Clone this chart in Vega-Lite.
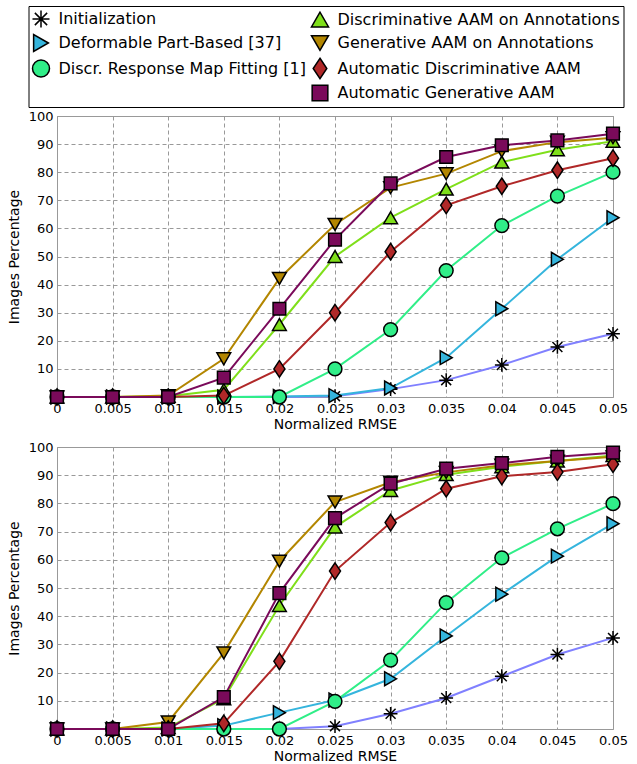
{
  "$schema": "https://vega.github.io/schema/vega-lite/v6.json",
  "padding": {"left": 6, "top": 5, "right": 5, "bottom": 2},
  "background": "white",
  "config": {
    "font": "DejaVu Sans",
    "view": {"stroke": "#999999", "strokeWidth": 1},
    "axis": {
      "domain": false,
      "ticks": false,
      "grid": true,
      "gridColor": "#999999",
      "gridDash": [4, 3],
      "gridWidth": 1,
      "labelFont": "DejaVu Sans",
      "labelFontSize": 13,
      "labelColor": "black",
      "labelFlush": false,
      "labelOverlap": false,
      "titleFont": "DejaVu Sans",
      "titleFontSize": 14,
      "titleFontWeight": "normal",
      "titleColor": "black"
    },
    "legend": {
      "orient": "none",
      "legendX": -28.5,
      "legendY": -110,
      "columns": 2,
      "strokeColor": "black",
      "fillColor": "white",
      "padding": 3,
      "labelFont": "DejaVu Sans",
      "labelFontSize": 16,
      "labelColor": "black",
      "labelLimit": 500,
      "labelOffset": 8,
      "symbolSize": 290,
      "symbolStrokeColor": "black",
      "symbolStrokeWidth": 1.5,
      "symbolOpacity": 1,
      "rowPadding": -0.5,
      "columnPadding": 1,
      "title": null
    }
  },
  "datasets": {
    "top": [
      {"x": 0, "y": 0, "series": "Initialization"},
      {"x": 0.005, "y": 0, "series": "Initialization"},
      {"x": 0.01, "y": 0, "series": "Initialization"},
      {"x": 0.015, "y": 0, "series": "Initialization"},
      {"x": 0.02, "y": 0, "series": "Initialization"},
      {"x": 0.025, "y": 0.3, "series": "Initialization"},
      {"x": 0.03, "y": 2.8, "series": "Initialization"},
      {"x": 0.035, "y": 6, "series": "Initialization"},
      {"x": 0.04, "y": 11.4, "series": "Initialization"},
      {"x": 0.045, "y": 17.8, "series": "Initialization"},
      {"x": 0.05, "y": 22.5, "series": "Initialization"},
      {"x": 0, "y": 0, "series": "Deformable Part-Based [37]"},
      {"x": 0.005, "y": 0, "series": "Deformable Part-Based [37]"},
      {"x": 0.01, "y": 0, "series": "Deformable Part-Based [37]"},
      {"x": 0.015, "y": 0, "series": "Deformable Part-Based [37]"},
      {"x": 0.02, "y": 0.2, "series": "Deformable Part-Based [37]"},
      {"x": 0.025, "y": 0.5, "series": "Deformable Part-Based [37]"},
      {"x": 0.03, "y": 3.2, "series": "Deformable Part-Based [37]"},
      {"x": 0.035, "y": 14, "series": "Deformable Part-Based [37]"},
      {"x": 0.04, "y": 31.4, "series": "Deformable Part-Based [37]"},
      {"x": 0.045, "y": 49, "series": "Deformable Part-Based [37]"},
      {"x": 0.05, "y": 63.8, "series": "Deformable Part-Based [37]"},
      {"x": 0, "y": 0, "series": "Discr. Response Map Fitting [1]"},
      {"x": 0.005, "y": 0, "series": "Discr. Response Map Fitting [1]"},
      {"x": 0.01, "y": 0, "series": "Discr. Response Map Fitting [1]"},
      {"x": 0.015, "y": 0, "series": "Discr. Response Map Fitting [1]"},
      {"x": 0.02, "y": 0, "series": "Discr. Response Map Fitting [1]"},
      {"x": 0.025, "y": 10, "series": "Discr. Response Map Fitting [1]"},
      {"x": 0.03, "y": 24, "series": "Discr. Response Map Fitting [1]"},
      {"x": 0.035, "y": 45, "series": "Discr. Response Map Fitting [1]"},
      {"x": 0.04, "y": 61, "series": "Discr. Response Map Fitting [1]"},
      {"x": 0.045, "y": 71.5, "series": "Discr. Response Map Fitting [1]"},
      {"x": 0.05, "y": 80, "series": "Discr. Response Map Fitting [1]"},
      {"x": 0, "y": 0, "series": "Discriminative AAM on Annotations"},
      {"x": 0.005, "y": 0, "series": "Discriminative AAM on Annotations"},
      {"x": 0.01, "y": 0.3, "series": "Discriminative AAM on Annotations"},
      {"x": 0.015, "y": 2.6, "series": "Discriminative AAM on Annotations"},
      {"x": 0.02, "y": 25.8, "series": "Discriminative AAM on Annotations"},
      {"x": 0.025, "y": 50, "series": "Discriminative AAM on Annotations"},
      {"x": 0.03, "y": 63.8, "series": "Discriminative AAM on Annotations"},
      {"x": 0.035, "y": 74, "series": "Discriminative AAM on Annotations"},
      {"x": 0.04, "y": 83.6, "series": "Discriminative AAM on Annotations"},
      {"x": 0.045, "y": 88, "series": "Discriminative AAM on Annotations"},
      {"x": 0.05, "y": 91, "series": "Discriminative AAM on Annotations"},
      {"x": 0, "y": 0, "series": "Generative AAM on Annotations"},
      {"x": 0.005, "y": 0, "series": "Generative AAM on Annotations"},
      {"x": 0.01, "y": 0.5, "series": "Generative AAM on Annotations"},
      {"x": 0.015, "y": 13.6, "series": "Generative AAM on Annotations"},
      {"x": 0.02, "y": 42.2, "series": "Generative AAM on Annotations"},
      {"x": 0.025, "y": 61.4, "series": "Generative AAM on Annotations"},
      {"x": 0.03, "y": 74.5, "series": "Generative AAM on Annotations"},
      {"x": 0.035, "y": 79.5, "series": "Generative AAM on Annotations"},
      {"x": 0.04, "y": 87.5, "series": "Generative AAM on Annotations"},
      {"x": 0.045, "y": 90.7, "series": "Generative AAM on Annotations"},
      {"x": 0.05, "y": 92.3, "series": "Generative AAM on Annotations"},
      {"x": 0, "y": 0, "series": "Automatic Discriminative AAM"},
      {"x": 0.005, "y": 0, "series": "Automatic Discriminative AAM"},
      {"x": 0.01, "y": 0, "series": "Automatic Discriminative AAM"},
      {"x": 0.015, "y": 0.5, "series": "Automatic Discriminative AAM"},
      {"x": 0.02, "y": 10, "series": "Automatic Discriminative AAM"},
      {"x": 0.025, "y": 30, "series": "Automatic Discriminative AAM"},
      {"x": 0.03, "y": 51.7, "series": "Automatic Discriminative AAM"},
      {"x": 0.035, "y": 68.2, "series": "Automatic Discriminative AAM"},
      {"x": 0.04, "y": 75, "series": "Automatic Discriminative AAM"},
      {"x": 0.045, "y": 80.7, "series": "Automatic Discriminative AAM"},
      {"x": 0.05, "y": 85, "series": "Automatic Discriminative AAM"},
      {"x": 0, "y": 0, "series": "Automatic Generative AAM"},
      {"x": 0.005, "y": 0, "series": "Automatic Generative AAM"},
      {"x": 0.01, "y": 0, "series": "Automatic Generative AAM"},
      {"x": 0.015, "y": 6.9, "series": "Automatic Generative AAM"},
      {"x": 0.02, "y": 31.4, "series": "Automatic Generative AAM"},
      {"x": 0.025, "y": 56, "series": "Automatic Generative AAM"},
      {"x": 0.03, "y": 76, "series": "Automatic Generative AAM"},
      {"x": 0.035, "y": 85.4, "series": "Automatic Generative AAM"},
      {"x": 0.04, "y": 89.6, "series": "Automatic Generative AAM"},
      {"x": 0.045, "y": 91.3, "series": "Automatic Generative AAM"},
      {"x": 0.05, "y": 93.7, "series": "Automatic Generative AAM"}
    ],
    "bottom": [
      {"x": 0, "y": 0, "series": "Initialization"},
      {"x": 0.005, "y": 0, "series": "Initialization"},
      {"x": 0.01, "y": 0, "series": "Initialization"},
      {"x": 0.015, "y": 0, "series": "Initialization"},
      {"x": 0.02, "y": 0, "series": "Initialization"},
      {"x": 0.025, "y": 1, "series": "Initialization"},
      {"x": 0.03, "y": 5.4, "series": "Initialization"},
      {"x": 0.035, "y": 11, "series": "Initialization"},
      {"x": 0.04, "y": 18.7, "series": "Initialization"},
      {"x": 0.045, "y": 26.4, "series": "Initialization"},
      {"x": 0.05, "y": 32.3, "series": "Initialization"},
      {"x": 0, "y": 0, "series": "Deformable Part-Based [37]"},
      {"x": 0.005, "y": 0, "series": "Deformable Part-Based [37]"},
      {"x": 0.01, "y": 0, "series": "Deformable Part-Based [37]"},
      {"x": 0.015, "y": 1.2, "series": "Deformable Part-Based [37]"},
      {"x": 0.02, "y": 5.8, "series": "Deformable Part-Based [37]"},
      {"x": 0.025, "y": 10.3, "series": "Deformable Part-Based [37]"},
      {"x": 0.03, "y": 17.8, "series": "Deformable Part-Based [37]"},
      {"x": 0.035, "y": 33, "series": "Deformable Part-Based [37]"},
      {"x": 0.04, "y": 47.8, "series": "Deformable Part-Based [37]"},
      {"x": 0.045, "y": 61.3, "series": "Deformable Part-Based [37]"},
      {"x": 0.05, "y": 72.8, "series": "Deformable Part-Based [37]"},
      {"x": 0, "y": 0, "series": "Discr. Response Map Fitting [1]"},
      {"x": 0.005, "y": 0, "series": "Discr. Response Map Fitting [1]"},
      {"x": 0.01, "y": 0, "series": "Discr. Response Map Fitting [1]"},
      {"x": 0.015, "y": 0, "series": "Discr. Response Map Fitting [1]"},
      {"x": 0.02, "y": 0, "series": "Discr. Response Map Fitting [1]"},
      {"x": 0.025, "y": 9.8, "series": "Discr. Response Map Fitting [1]"},
      {"x": 0.03, "y": 24.4, "series": "Discr. Response Map Fitting [1]"},
      {"x": 0.035, "y": 44.8, "series": "Discr. Response Map Fitting [1]"},
      {"x": 0.04, "y": 60.7, "series": "Discr. Response Map Fitting [1]"},
      {"x": 0.045, "y": 71, "series": "Discr. Response Map Fitting [1]"},
      {"x": 0.05, "y": 79.9, "series": "Discr. Response Map Fitting [1]"},
      {"x": 0, "y": 0, "series": "Discriminative AAM on Annotations"},
      {"x": 0.005, "y": 0, "series": "Discriminative AAM on Annotations"},
      {"x": 0.01, "y": 0.5, "series": "Discriminative AAM on Annotations"},
      {"x": 0.015, "y": 10.7, "series": "Discriminative AAM on Annotations"},
      {"x": 0.02, "y": 43.8, "series": "Discriminative AAM on Annotations"},
      {"x": 0.025, "y": 71.6, "series": "Discriminative AAM on Annotations"},
      {"x": 0.03, "y": 84.6, "series": "Discriminative AAM on Annotations"},
      {"x": 0.035, "y": 90.2, "series": "Discriminative AAM on Annotations"},
      {"x": 0.04, "y": 93, "series": "Discriminative AAM on Annotations"},
      {"x": 0.045, "y": 95, "series": "Discriminative AAM on Annotations"},
      {"x": 0.05, "y": 97, "series": "Discriminative AAM on Annotations"},
      {"x": 0, "y": 0, "series": "Generative AAM on Annotations"},
      {"x": 0.005, "y": 0, "series": "Generative AAM on Annotations"},
      {"x": 0.01, "y": 2.5, "series": "Generative AAM on Annotations"},
      {"x": 0.015, "y": 27, "series": "Generative AAM on Annotations"},
      {"x": 0.02, "y": 59.5, "series": "Generative AAM on Annotations"},
      {"x": 0.025, "y": 80.5, "series": "Generative AAM on Annotations"},
      {"x": 0.03, "y": 87.5, "series": "Generative AAM on Annotations"},
      {"x": 0.035, "y": 91, "series": "Generative AAM on Annotations"},
      {"x": 0.04, "y": 93.5, "series": "Generative AAM on Annotations"},
      {"x": 0.045, "y": 95, "series": "Generative AAM on Annotations"},
      {"x": 0.05, "y": 96.5, "series": "Generative AAM on Annotations"},
      {"x": 0, "y": 0, "series": "Automatic Discriminative AAM"},
      {"x": 0.005, "y": 0, "series": "Automatic Discriminative AAM"},
      {"x": 0.01, "y": 0, "series": "Automatic Discriminative AAM"},
      {"x": 0.015, "y": 2, "series": "Automatic Discriminative AAM"},
      {"x": 0.02, "y": 24, "series": "Automatic Discriminative AAM"},
      {"x": 0.025, "y": 56, "series": "Automatic Discriminative AAM"},
      {"x": 0.03, "y": 73.2, "series": "Automatic Discriminative AAM"},
      {"x": 0.035, "y": 85.2, "series": "Automatic Discriminative AAM"},
      {"x": 0.04, "y": 89.6, "series": "Automatic Discriminative AAM"},
      {"x": 0.045, "y": 91.1, "series": "Automatic Discriminative AAM"},
      {"x": 0.05, "y": 93.9, "series": "Automatic Discriminative AAM"},
      {"x": 0, "y": 0, "series": "Automatic Generative AAM"},
      {"x": 0.005, "y": 0, "series": "Automatic Generative AAM"},
      {"x": 0.01, "y": 0, "series": "Automatic Generative AAM"},
      {"x": 0.015, "y": 11.3, "series": "Automatic Generative AAM"},
      {"x": 0.02, "y": 48.2, "series": "Automatic Generative AAM"},
      {"x": 0.025, "y": 74.8, "series": "Automatic Generative AAM"},
      {"x": 0.03, "y": 87, "series": "Automatic Generative AAM"},
      {"x": 0.035, "y": 92.3, "series": "Automatic Generative AAM"},
      {"x": 0.04, "y": 94.3, "series": "Automatic Generative AAM"},
      {"x": 0.045, "y": 96.5, "series": "Automatic Generative AAM"},
      {"x": 0.05, "y": 98, "series": "Automatic Generative AAM"}
    ]
  },
  "spacing": 8,
  "resolve": {"scale": {"color": "shared", "shape": "shared", "stroke": "shared"}, "legend": {"color": "shared", "shape": "shared"}},
  "vconcat": [
    {
      "width": 556,
      "height": 281,
      "data": {"name": "top"},
      "encoding": {
        "x": {"field": "x", "type": "quantitative", "scale": {"domain": [0, 0.05], "nice": false}, "axis": {"values": [0, 0.005, 0.01, 0.015, 0.02, 0.025, 0.03, 0.035, 0.04, 0.045, 0.05], "labelExpr": "format(datum.value, '~g')", "labelOverlap": false, "labelFlush": false, "title": "Normalized RMSE", "labelPadding": 5, "titlePadding": 2}},
        "y": {"field": "y", "type": "quantitative", "scale": {"domain": [0, 100], "nice": false}, "axis": {"values": [10, 20, 30, 40, 50, 60, 70, 80, 90, 100], "labelOverlap": false, "labelFlush": false, "labelSeparation": 0, "title": "Images Percentage", "labelPadding": 4, "titlePadding": 7}}
      },
      "layer": [
        {
          "mark": {"type": "line", "strokeWidth": 2},
          "encoding": {
            "stroke": {"field": "series", "type": "nominal", "legend": null, "scale": {"domain": ["Automatic Generative AAM", "Automatic Discriminative AAM", "Generative AAM on Annotations", "Discriminative AAM on Annotations", "Discr. Response Map Fitting [1]", "Deformable Part-Based [37]", "Initialization"], "range": ["#7a0a5a", "#b02828", "#b38600", "#7fdf1a", "#30ee88", "#35b5dd", "#8080ff"]}}
          }
        },
        {
          "mark": {"type": "point", "filled": true, "stroke": "black", "strokeWidth": 1.5, "size": 190, "opacity": 1},
          "encoding": {
            "color": {"field": "series", "type": "nominal", "scale": {"domain": ["Initialization", "Deformable Part-Based [37]", "Discr. Response Map Fitting [1]", " ", "Discriminative AAM on Annotations", "Generative AAM on Annotations", "Automatic Discriminative AAM", "Automatic Generative AAM"], "range": ["#8080ff", "#35b5dd", "#30ee88", "#ffffff", "#7fdf1a", "#b38600", "#b02828", "#7a0a5a"]}, "legend": {"encode": {"symbols": {"update": {"opacity": {"signal": "datum.value === ' ' ? 0 : 1"}}}}}},
            "shape": {"field": "series", "type": "nominal", "scale": {"domain": ["Initialization", "Deformable Part-Based [37]", "Discr. Response Map Fitting [1]", " ", "Discriminative AAM on Annotations", "Generative AAM on Annotations", "Automatic Discriminative AAM", "Automatic Generative AAM"], "range": ["M-1,0L1,0M0,-1L0,1M-0.72,-0.72L0.72,0.72M-0.72,0.72L0.72,-0.72", "triangle-right", "circle", "circle", "triangle-up", "triangle-down", "M0,-1.2L0.8,0L0,1.2L-0.8,0Z", "M-0.92,-0.92L0.92,-0.92L0.92,0.92L-0.92,0.92Z"]}, "legend": {"encode": {"symbols": {"update": {"opacity": {"signal": "datum.value === ' ' ? 0 : 1"}}}}}}
          }
        }
      ]
    },
    {
      "width": 556,
      "height": 282,
      "data": {"name": "bottom"},
      "encoding": {
        "x": {"field": "x", "type": "quantitative", "scale": {"domain": [0, 0.05], "nice": false}, "axis": {"values": [0, 0.005, 0.01, 0.015, 0.02, 0.025, 0.03, 0.035, 0.04, 0.045, 0.05], "labelExpr": "format(datum.value, '~g')", "labelOverlap": false, "labelFlush": false, "title": "Normalized RMSE", "labelPadding": 5, "titlePadding": 2}},
        "y": {"field": "y", "type": "quantitative", "scale": {"domain": [0, 100], "nice": false}, "axis": {"values": [10, 20, 30, 40, 50, 60, 70, 80, 90, 100], "labelOverlap": false, "labelFlush": false, "labelSeparation": 0, "title": "Images Percentage", "labelPadding": 4, "titlePadding": 7}}
      },
      "layer": [
        {
          "mark": {"type": "line", "strokeWidth": 2},
          "encoding": {
            "stroke": {"field": "series", "type": "nominal", "legend": null}
          }
        },
        {
          "mark": {"type": "point", "filled": true, "stroke": "black", "strokeWidth": 1.5, "size": 190, "opacity": 1},
          "encoding": {
            "color": {"field": "series", "type": "nominal", "legend": {"encode": {"symbols": {"update": {"opacity": {"signal": "datum.value === ' ' ? 0 : 1"}}}}}},
            "shape": {"field": "series", "type": "nominal", "legend": {"encode": {"symbols": {"update": {"opacity": {"signal": "datum.value === ' ' ? 0 : 1"}}}}}}
          }
        }
      ]
    }
  ]
}
